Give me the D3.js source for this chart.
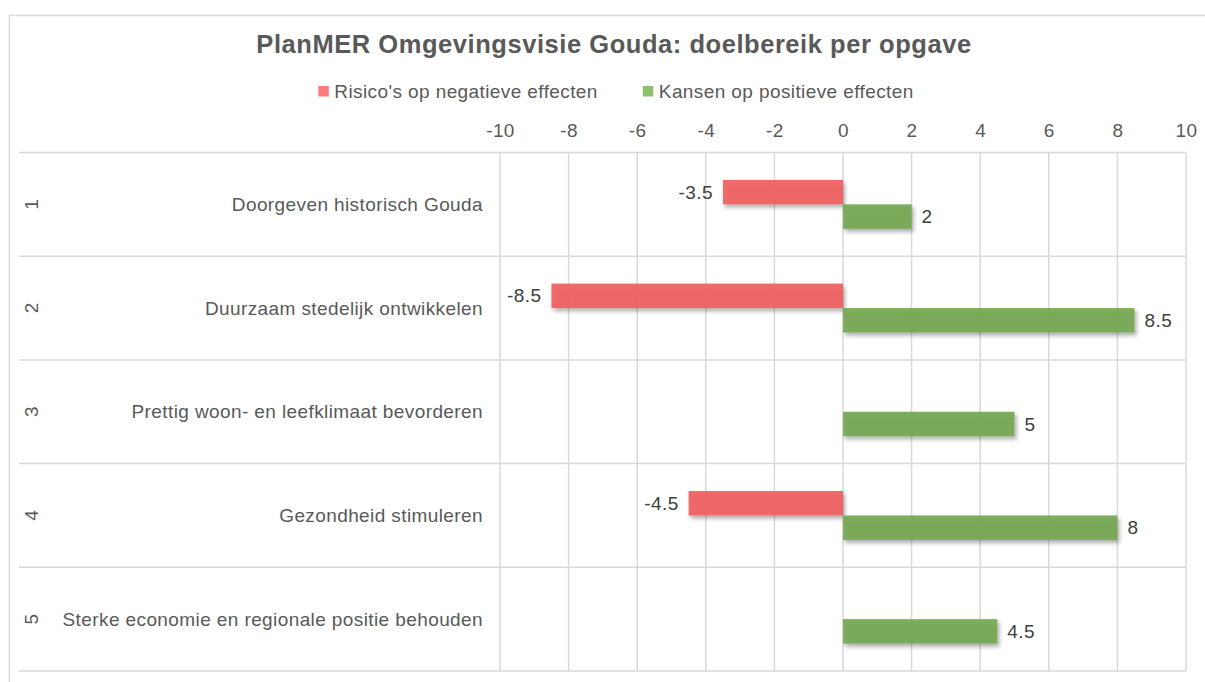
<!DOCTYPE html>
<html>
<head>
<meta charset="utf-8">
<script src="https://cdn.jsdelivr.net/npm/d3@7/dist/d3.min.js"></script>
<style>
  html, body { margin: 0; padding: 0; background: #ffffff; }
  svg { display: block; font-family: Arial, "Liberation Sans", sans-serif; }
</style>
</head>
<body>
<svg id="chart" width="1205" height="682"></svg>
<script>
const title = "PlanMER Omgevingsvisie Gouda: doelbereik per opgave";
const groupLabels = ["1", "2", "3", "4", "5"];
const categories = [
  "Doorgeven historisch Gouda",
  "Duurzaam stedelijk ontwikkelen",
  "Prettig woon- en leefklimaat bevorderen",
  "Gezondheid stimuleren",
  "Sterke economie en regionale positie behouden"
];
const seriesNames = ["Risico's op negatieve effecten", "Kansen op positieve effecten"];
const risks = [-3.5, -8.5, null, -4.5, null];
const chances = [2, 8.5, 5, 8, 4.5];
const xTicks = [-10, -8, -6, -4, -2, 0, 2, 4, 6, 8, 10];
const seriesColors = ["#f06060", "#74a853"];
const legendColors = ["#ff7c7c", "#8cc06b"];

const svg = d3.select("#chart");
const textColor = "#595959";
const gridColor = "#d9d9d9";
const ls = 0.4;

// Outer chart border
svg.append("rect")
  .attr("x", 9.5).attr("y", 15.5)
  .attr("width", 1220).attr("height", 700)
  .attr("fill", "#fff").attr("stroke", gridColor).attr("stroke-width", 1.5);

// Shadow filter
const defs = svg.append("defs");
const f = defs.append("filter").attr("id", "shadow")
  .attr("x", "-10%").attr("y", "-40%").attr("width", "130%").attr("height", "200%");
f.append("feDropShadow").attr("dx", 2).attr("dy", 3).attr("stdDeviation", 2)
  .attr("flood-color", "#000").attr("flood-opacity", 0.35);

const x = d3.scaleLinear().domain([-10, 10]).range([500, 1186]);
const y = d3.scaleBand().domain(d3.range(categories.length)).range([152.5, 671]).padding(0);
const ySeries = d3.scaleBand().domain([0, 1]).range([0, y.bandwidth()]).paddingInner(0).paddingOuter(1.12);

// Title
svg.append("text")
  .attr("x", 614).attr("y", 53)
  .attr("text-anchor", "middle")
  .attr("font-size", 25.5).attr("font-weight", "bold")
  .attr("letter-spacing", 0.55)
  .attr("fill", textColor)
  .text(title);

// Legend
const legend = svg.append("g");
const legendItems = legend.selectAll("g").data(seriesNames).join("g");
legendItems.append("rect")
  .attr("width", 10.5).attr("height", 10.5).attr("y", -5)
  .attr("fill", (d, i) => legendColors[i]);
legendItems.append("text")
  .attr("x", 16).attr("dy", "0.35em")
  .attr("font-size", 19).attr("letter-spacing", ls).attr("fill", textColor)
  .text(d => d);
const widths = [];
legendItems.each(function(d, i) {
  const w = 16 + this.querySelector("text").getComputedTextLength();
  widths.push(w);
});
const itemGap = 45;
const totalW = d3.sum(widths) + itemGap * (widths.length - 1);
let cx = 616 - totalW / 2;
legendItems.attr("transform", (d, i) => {
  const t = `translate(${cx},91)`;
  cx += widths[i] + itemGap;
  return t;
});

// Vertical gridlines
svg.append("g").selectAll("line").data(xTicks).join("line")
  .attr("x1", d => x(d)).attr("x2", d => x(d))
  .attr("y1", 152).attr("y2", 671)
  .attr("stroke", gridColor).attr("stroke-width", 1.5);

// Horizontal category separators
const seps = d3.range(categories.length + 1).map(i => i < categories.length ? y(i) : y(categories.length - 1) + y.bandwidth());
svg.append("g").selectAll("line").data(seps).join("line")
  .attr("x1", 19).attr("x2", 1186)
  .attr("y1", d => d).attr("y2", d => d)
  .attr("stroke", gridColor).attr("stroke-width", 1.5);

// Top axis tick labels
const axis = svg.append("g").attr("transform", "translate(0,137)")
  .call(d3.axisTop(x).tickValues(xTicks).tickSize(0).tickPadding(0).tickFormat(d => String(d)));
axis.select(".domain").remove();
axis.selectAll("text").attr("font-size", 19).attr("fill", textColor)
  .attr("letter-spacing", ls)
  .attr("font-family", "Arial, 'Liberation Sans', sans-serif").attr("dy", 0);

// Category labels
const catG = svg.append("g");
catG.selectAll("text.cat").data(categories).join("text")
  .attr("class", "cat")
  .attr("x", 483)
  .attr("y", (d, i) => y(i) + y.bandwidth() / 2)
  .attr("dy", "0.35em")
  .attr("text-anchor", "end")
  .attr("font-size", 19).attr("letter-spacing", ls).attr("fill", textColor)
  .text(d => d);
catG.selectAll("text.grp").data(groupLabels).join("text")
  .attr("class", "grp")
  .attr("transform", (d, i) => `translate(31,${y(i) + y.bandwidth() / 2}) rotate(-90)`)
  .attr("dy", "0.35em")
  .attr("text-anchor", "middle")
  .attr("font-size", 19).attr("fill", textColor)
  .text(d => d);

// Bars
const series = [risks, chances];
series.forEach((vals, s) => {
  const data = vals.map((v, i) => ({ v, i })).filter(d => d.v !== null);
  svg.append("g").selectAll("rect").data(data).join("rect")
    .attr("x", d => x(Math.min(0, d.v)))
    .attr("width", d => Math.abs(x(d.v) - x(0)))
    .attr("y", d => y(d.i) + ySeries(s))
    .attr("height", ySeries.bandwidth())
    .attr("fill", seriesColors[s])
    .attr("fill-opacity", 0.93)
    .attr("filter", "url(#shadow)");
  svg.append("g").selectAll("text").data(data).join("text")
    .attr("x", d => d.v < 0 ? x(d.v) - 10 : x(d.v) + 10)
    .attr("y", d => y(d.i) + ySeries(s) + ySeries.bandwidth() / 2)
    .attr("dy", "0.35em")
    .attr("text-anchor", d => d.v < 0 ? "end" : "start")
    .attr("font-size", 19).attr("letter-spacing", ls).attr("fill", "#404040")
    .text(d => d.v);
});
</script>
</body>
</html>
